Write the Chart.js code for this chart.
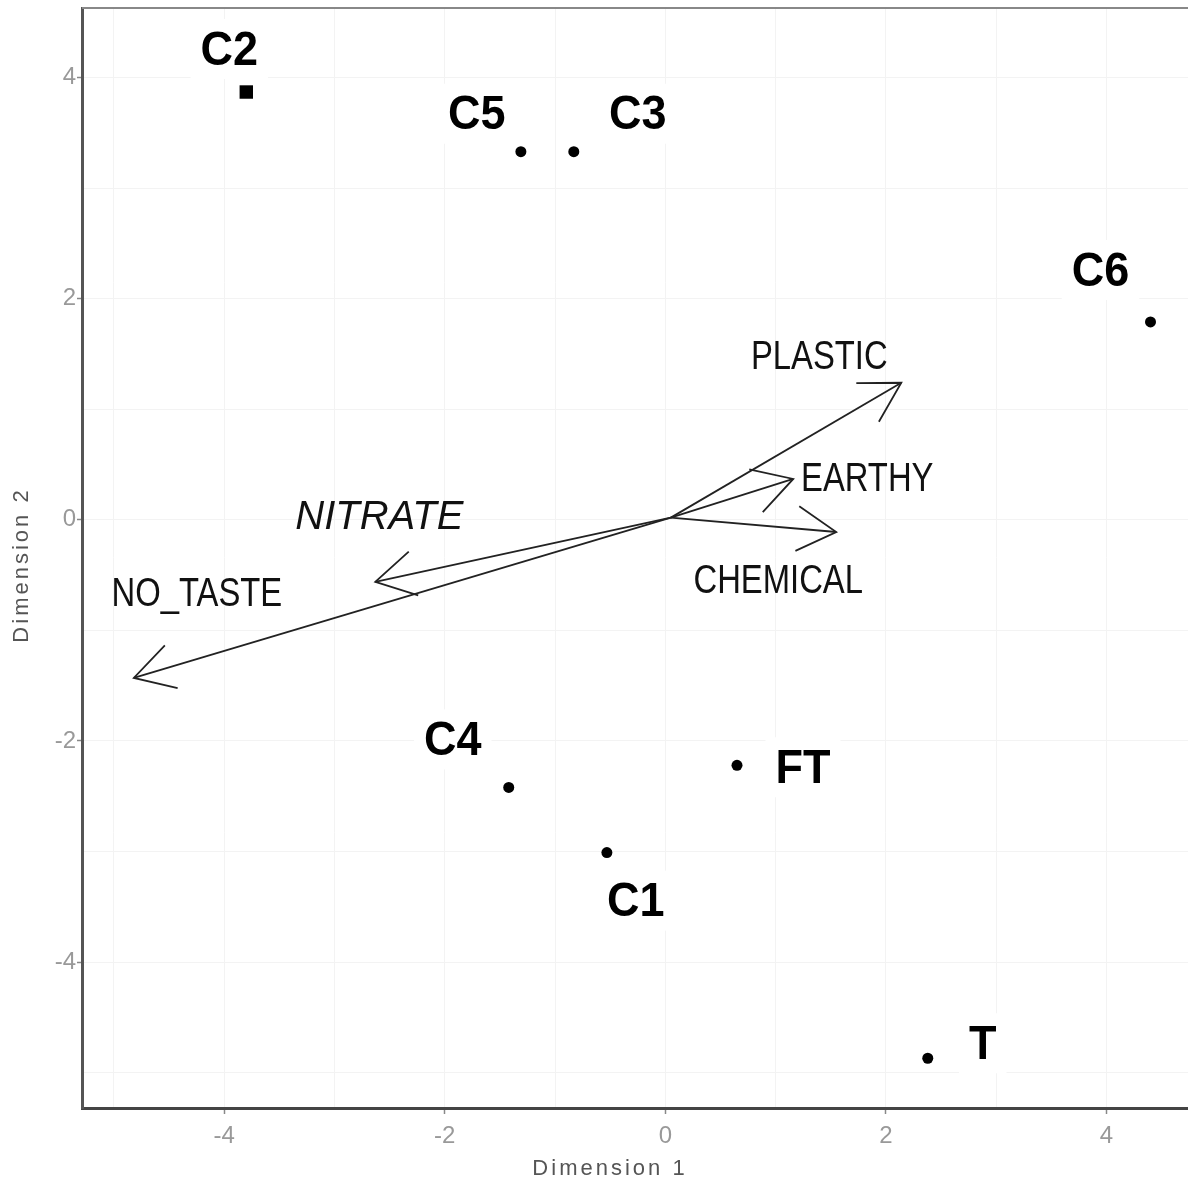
<!DOCTYPE html>
<html>
<head>
<meta charset="utf-8">
<script src="https://cdn.jsdelivr.net/npm/chart.js@4/dist/chart.umd.min.js"></script>
<style>
  body { margin: 0; background: #fff; }
</style>
</head>
<body>
<canvas id="mdsChart" width="1188" height="1183"></canvas>
<script>
// samples (points)
var samples = ["C2", "C5", "C3", "C6", "C4", "FT", "C1", "T"];
var dim1 = [-3.80, -1.31, -0.83, 4.40, -1.42, 0.65, -0.53, 2.38];
var dim2 = [3.87, 3.33, 3.33, 1.79, -2.42, -2.22, -3.01, -4.87];
// attributes (arrows from the origin)
var attributes = ["PLASTIC", "EARTHY", "CHEMICAL", "NITRATE", "NO_TASTE"];
var attrX = [2.14, 1.16, 1.55, -2.63, -4.82];
var attrY = [1.24, 0.37, -0.11, -0.56, -1.43];
var origin = [0.05, 0.02];

// label placement in pixels (style only)
var sampleLabelOffset = [[-17,-43],[-44,-38],[64,-38],[-50,-52],[-56,-48],[66,2],[29,48],[55,-15]];
var attrLabelOffset = [[-82,-25],[74,1],[-58,50],[4,-64],[63,-83]];

var datasets = [{
  label: "samples",
  data: samples.map(function (s, i) { return { x: dim1[i], y: dim2[i] }; }),
  backgroundColor: "#000",
  borderColor: "#000",
  pointStyle: samples.map(function (s) { return s === "C2" ? "rect" : "circle"; }),
  pointRadius: samples.map(function (s) { return s === "C2" ? 9.5 : 5.5; }),
  borderWidth: 0
}];
attributes.forEach(function (a, i) {
  datasets.push({
    label: a,
    type: "line",
    data: [{ x: origin[0], y: origin[1] }, { x: attrX[i], y: attrY[i] }],
    borderColor: "#222",
    borderWidth: 1.8,
    pointRadius: 0,
    fill: false
  });
});

var overlay = {
  id: "overlay",
  afterDatasetsDraw: function (chart) {
    var ctx = chart.ctx, xs = chart.scales.x, ys = chart.scales.y;
    ctx.save();
    // arrow heads
    var ox = xs.getPixelForValue(origin[0]), oy = ys.getPixelForValue(origin[1]);
    ctx.strokeStyle = "#222";
    ctx.lineWidth = 1.8;
    attributes.forEach(function (a, i) {
      var tx = xs.getPixelForValue(attrX[i]), ty = ys.getPixelForValue(attrY[i]);
      var ang = Math.atan2(oy - ty, ox - tx);
      ctx.beginPath();
      ctx.moveTo(tx + 45 * Math.cos(ang - 0.52), ty + 45 * Math.sin(ang - 0.52));
      ctx.lineTo(tx, ty);
      ctx.lineTo(tx + 45 * Math.cos(ang + 0.52), ty + 45 * Math.sin(ang + 0.52));
      ctx.stroke();
      // label
      ctx.save();
      ctx.translate(tx + attrLabelOffset[i][0], ty + attrLabelOffset[i][1]);
      if (a === "NITRATE") {
        ctx.font = "italic 40px 'Liberation Sans', Arial, sans-serif";
      } else {
        ctx.scale(0.82, 1);
        ctx.font = "40px 'Liberation Sans', Arial, sans-serif";
      }
      ctx.fillStyle = "#111";
      ctx.textAlign = "center";
      ctx.textBaseline = "middle";
      ctx.fillText(a, 0, 0);
      ctx.restore();
    });
    // sample labels with white boxes
    samples.forEach(function (s, i) {
      var px = xs.getPixelForValue(dim1[i]) + sampleLabelOffset[i][0];
      var py = ys.getPixelForValue(dim2[i]) + sampleLabelOffset[i][1];
      ctx.font = "bold 45px 'Liberation Sans', Arial, sans-serif";
      var w = ctx.measureText(s).width;
      ctx.fillStyle = "#fff";
      ctx.fillRect(px - w / 2 - 10, py - 30, w + 20, 60);
      ctx.save();
      ctx.translate(px, py);
      ctx.scale(1, 1.08);
      ctx.fillStyle = "#000";
      ctx.textAlign = "center";
      ctx.textBaseline = "middle";
      ctx.fillText(s, 0, 2);
      ctx.restore();
    });
    ctx.restore();
  },
  afterDraw: function (chart) {
    var ctx = chart.ctx, area = chart.chartArea;
    ctx.save();
    // top border
    ctx.strokeStyle = "#888";
    ctx.lineWidth = 2;
    ctx.beginPath();
    ctx.moveTo(area.left, area.top);
    ctx.lineTo(area.right, area.top);
    ctx.stroke();
    // axis titles
    ctx.fillStyle = "#555";
    ctx.font = "22px 'Liberation Sans', Arial, sans-serif";
    ctx.letterSpacing = "3px";
    ctx.textAlign = "center";
    ctx.textBaseline = "middle";
    ctx.fillText("Dimension 1", area.left + 528, chart.height - 14);
    ctx.translate(22, area.top + 557);
    ctx.rotate(-Math.PI / 2);
    ctx.fillText("Dimension 2", 0, 0);
    ctx.restore();
  }
};

function tickLabel(v) {
  return (Math.round(v) % 2 === 0) ? String(v) : "";
}
function tickColor(c) {
  return (c.tick && Math.round(c.tick.value) % 2 === 0) ? "#888" : "rgba(0,0,0,0)";
}

var ctx = document.getElementById("mdsChart");
var mdsChart = new Chart(ctx, {
  type: "scatter",
  data: { datasets: datasets },
  options: {
    responsive: false,
    animation: false,
    layout: { autoPadding: false, padding: { top: 8, right: 0, left: 0, bottom: 0 } },
    plugins: { legend: { display: false }, tooltip: { enabled: false } },
    scales: {
      x: {
        min: -5.29,
        max: 4.74,
        afterFit: function (s) { s.height = 75; s.paddingLeft = 0; s.paddingRight = 0; },
        border: { color: "#444", width: 3 },
        grid: { color: "#f3f3f3", lineWidth: 1, tickLength: 6, tickColor: tickColor, tickWidth: 1.5 },
        ticks: {
          stepSize: 1,
          includeBounds: false,
          autoSkip: false,
          maxRotation: 0,
          padding: 8,
          color: "#999",
          font: { family: "'Liberation Sans Narrow', 'Liberation Sans', Arial, sans-serif", size: 24 },
          callback: tickLabel
        }
      },
      y: {
        min: -5.32,
        max: 4.63,
        afterFit: function (s) { s.width = 82; s.paddingTop = 0; s.paddingBottom = 0; },
        border: { color: "#555", width: 3 },
        grid: { color: "#f3f3f3", lineWidth: 1, tickLength: 5, tickColor: tickColor, tickWidth: 1.5 },
        ticks: {
          stepSize: 1,
          includeBounds: false,
          autoSkip: false,
          padding: 1,
          color: "#999",
          font: { family: "'Liberation Sans Narrow', 'Liberation Sans', Arial, sans-serif", size: 24 },
          callback: tickLabel
        }
      }
    }
  },
  plugins: [overlay]
});
</script>
</body>
</html>
